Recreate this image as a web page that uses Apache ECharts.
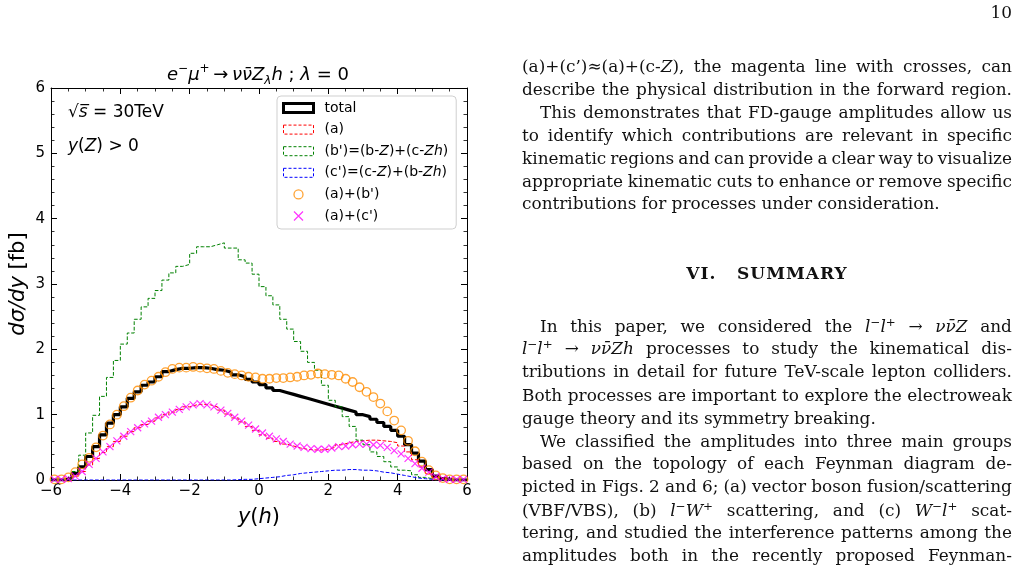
<!DOCTYPE html>
<html>
<head>
<meta charset="utf-8">
<script src="https://cdn.jsdelivr.net/npm/echarts@6/dist/echarts.min.js"></script>
<style>
  html, body { margin: 0; padding: 0; background: #fff; }
  #page { position: relative; width: 1017px; height: 570px; overflow: hidden; }
  #chart { position: absolute; left: 0; top: 0; width: 1017px; height: 570px; }
  .ln { position: absolute; left: 522px; width: 490px; height: 23px; line-height: 23px;
        font-family: 'DejaVu Serif', serif; font-size: 16.9px; color: #111; white-space: nowrap; }
  .ln.j { display: flex; justify-content: space-between; }
  .ln.ind { left: 540px; width: 472px; }
  .ln i { font-style: italic; }
  .ln sup { font-size: 70%; line-height: 0; vertical-align: 0.5em; }
  .hd { position: absolute; left: 522px; width: 490px; text-align: center; font-family: 'DejaVu Serif', serif;
        font-weight: bold; font-size: 17px; letter-spacing: 1px; line-height: 23px; color: #111; white-space: pre; }
  .pg { position: absolute; right: 5px; top: 2px; font-family: 'DejaVu Serif', serif; font-size: 16.9px; color: #111; }
</style>
</head>
<body>
<div id="page">
  <div id="chart"></div>
  <div class="pg">10</div>
  <div id="text"></div>
</div>
<script>
// bins of width 0.2 from -6 to 6
const binWidth = 0.2
const binLeft = Array.from({ length: 60 }, (_, i) => -6 + i * binWidth)

// total
const total = [
  0, 0, 0.03, 0.1, 0.2, 0.36, 0.51, 0.69, 0.87, 1.0,
  1.12, 1.25, 1.35, 1.45, 1.5, 1.58, 1.66, 1.69, 1.71, 1.71,
  1.72, 1.72, 1.71, 1.69, 1.68, 1.65, 1.61, 1.58, 1.54, 1.5,
  1.46, 1.41, 1.37, 1.34, 1.31, 1.28, 1.25, 1.22, 1.19, 1.16,
  1.13, 1.1, 1.07, 1.04, 1.0, 0.97, 0.93, 0.88, 0.82, 0.76,
  0.67, 0.54, 0.41, 0.29, 0.16, 0.06, 0.02, 0, 0, 0,
]
// (a)
const partA = [
  0, 0, 0.02, 0.06, 0.13, 0.23, 0.33, 0.42, 0.51, 0.59,
  0.67, 0.74, 0.8, 0.85, 0.9, 0.95, 1.0, 1.04, 1.08, 1.12,
  1.15, 1.16, 1.15, 1.12, 1.07, 1.01, 0.95, 0.89, 0.82, 0.76,
  0.69, 0.64, 0.59, 0.55, 0.52, 0.49, 0.47, 0.46, 0.46, 0.47,
  0.5, 0.54, 0.57, 0.59, 0.6, 0.61, 0.61, 0.6, 0.59, 0.57,
  0.52, 0.43, 0.31, 0.2, 0.1, 0.04, 0.01, 0, 0, 0,
]
// (b')=(b-Z)+(c-Zh)
const partB = [
  0, 0, 0.03, 0.13, 0.38, 0.72, 0.99, 1.28, 1.57, 1.83,
  2.08, 2.25, 2.46, 2.65, 2.78, 2.9, 3.06, 3.17, 3.27, 3.3,
  3.47, 3.57, 3.57, 3.6, 3.63, 3.55, 3.55, 3.37, 3.32, 3.15,
  2.96, 2.82, 2.68, 2.46, 2.31, 2.12, 1.97, 1.8, 1.68, 1.45,
  1.22, 1.12, 0.97, 0.82, 0.61, 0.54, 0.43, 0.36, 0.28, 0.2,
  0.15, 0.14, 0.08, 0.04, 0.02, 0, 0, 0, 0, 0,
]
// (c')=(c-Z)+(b-Zh)
const partC = [
  0, 0, 0, 0, 0, 0, 0, 0, 0, 0,
  0, 0, 0, 0, 0, 0, 0, 0, 0, 0,
  0, 0, 0, 0, 0, 0, 0.005, 0.01, 0.01, 0.02,
  0.03, 0.04, 0.05, 0.07, 0.08, 0.1, 0.11, 0.12, 0.13, 0.14,
  0.15, 0.15, 0.16, 0.16, 0.15, 0.15, 0.14, 0.12, 0.11, 0.09,
  0.07, 0.05, 0.03, 0.02, 0.01, 0, 0, 0, 0, 0,
]
// (a)+(b')
const sumAB = [
  0.01, 0.01, 0.04, 0.12, 0.24, 0.34, 0.5, 0.68, 0.85, 1.0,
  1.13, 1.26, 1.37, 1.46, 1.52, 1.58, 1.65, 1.7, 1.72, 1.72,
  1.73, 1.72, 1.71, 1.7, 1.67, 1.64, 1.62, 1.6, 1.58, 1.57,
  1.55, 1.55, 1.56, 1.56, 1.57, 1.58, 1.6, 1.61, 1.63, 1.62,
  1.61, 1.6, 1.55, 1.5, 1.42, 1.35, 1.27, 1.17, 1.05, 0.91,
  0.76, 0.6, 0.44, 0.28, 0.15, 0.07, 0.03, 0.01, 0.01, 0.01,
]
// (a)+(c')
const sumAC = [
  0.01, 0.01, 0.02, 0.06, 0.13, 0.24, 0.33, 0.43, 0.51, 0.6,
  0.67, 0.74, 0.8, 0.86, 0.9, 0.96, 1.0, 1.04, 1.08, 1.12,
  1.15, 1.17, 1.15, 1.12, 1.07, 1.02, 0.96, 0.9, 0.84, 0.78,
  0.72, 0.67, 0.63, 0.59, 0.55, 0.52, 0.5, 0.48, 0.47, 0.47,
  0.49, 0.51, 0.52, 0.54, 0.55, 0.55, 0.54, 0.53, 0.5, 0.45,
  0.4, 0.33, 0.25, 0.18, 0.12, 0.05, 0.02, 0.01, 0.01, 0.01,
]

const legendLabels = {
  'total': 'total',
  '(a)': '(a)',
  "(b')": "(b')=(b-{i|Z})+(c-{i|Zh})",
  "(c')": "(c')=(c-{i|Z})+(b-{i|Zh})",
  "(a)+(b')": "(a)+(b')",
  "(a)+(c')": "(a)+(c')",
}

const xPath = 'path://M0,0L10,10M10,0L0,10'
const minus = v => (v < 0 ? '\u2212' + Math.abs(v) : String(v))

// histogram outline from left edges, closed at x = 6
const stepData = vals => vals.map((v, i) => [binLeft[i], v]).concat([[6, vals[vals.length - 1]]])
// markers at bin centres
const markerData = vals => vals.map((v, i) => [binLeft[i] + binWidth / 2, v])

const chart = echarts.init(document.getElementById('chart'), null, { renderer: 'canvas' })

const tickBase = {
  axisLine: { show: true, onZero: false, lineStyle: { color: '#000', width: 1 } },
  axisTick: { show: true, inside: true, length: 6, lineStyle: { color: '#000', width: 1 } },
  minorTick: { show: true, length: 3.5, lineStyle: { color: '#000', width: 0.8 } },
  splitLine: { show: false },
  minorSplitLine: { show: false },
}
const labelStyle = { color: '#000', fontSize: 15, fontFamily: 'DejaVu Sans', formatter: minus }

const dashed = (name, vals, color) => ({
  name,
  type: 'line',
  step: 'end',
  data: stepData(vals),
  symbol: 'none',
  lineStyle: { color, width: 1, type: [3.7, 1.8] },
  itemStyle: { color },
  z: 3,
})

chart.setOption({
  animation: false,
  backgroundColor: 'rgba(0,0,0,0)',
  grid: { left: 51, right: 550, top: 88, bottom: 90, outerBoundsMode: 'none' },
  xAxis: [
    {
      type: 'value', min: -6, max: 6, interval: 2, position: 'bottom',
      ...tickBase,
      minorTick: { ...tickBase.minorTick, splitNumber: 4 },
      axisLabel: { ...labelStyle, margin: 4 },
      name: '{i|y}{n|(}{i|h}{n|)}',
      nameLocation: 'middle',
      nameGap: 27,
      nameTextStyle: {
        rich: {
          i: { fontStyle: 'italic', fontFamily: 'DejaVu Sans', fontSize: 21, color: '#000' },
          n: { fontFamily: 'DejaVu Sans', fontSize: 21, color: '#000' },
        },
      },
    },
    {
      type: 'value', min: -6, max: 6, interval: 2, position: 'top',
      ...tickBase,
      minorTick: { ...tickBase.minorTick, splitNumber: 4 },
      axisLabel: { show: false },
    },
  ],
  yAxis: [
    {
      type: 'value', min: 0, max: 6, interval: 1, position: 'left',
      ...tickBase,
      minorTick: { ...tickBase.minorTick, splitNumber: 5 },
      axisLabel: { ...labelStyle, margin: 6 },
      name: '{i|d\u03c3/dy}{n| [fb]}',
      nameLocation: 'middle',
      nameRotate: 90,
      nameGap: 22,
      nameTextStyle: {
        rich: {
          i: { fontStyle: 'italic', fontFamily: 'DejaVu Sans', fontSize: 21, color: '#000' },
          n: { fontFamily: 'DejaVu Sans', fontSize: 21, color: '#000' },
        },
      },
    },
    {
      type: 'value', min: 0, max: 6, interval: 1, position: 'right',
      ...tickBase,
      minorTick: { ...tickBase.minorTick, splitNumber: 5 },
      axisLabel: { show: false },
    },
  ],
  legend: {
    orient: 'vertical',
    left: 277,
    top: 96,
    align: 'left',
    selectedMode: false,
    padding: [5, 8, 6, 5],
    itemGap: 7.6,
    itemWidth: 30,
    itemHeight: 9,
    backgroundColor: '#fff',
    borderColor: '#cfcfcf',
    borderWidth: 1,
    borderRadius: 4,
    formatter: n => legendLabels[n],
    textStyle: {
      color: '#000', fontFamily: 'DejaVu Sans', fontSize: 14, lineHeight: 14, padding: [0, 0, 0, 6],
      rich: { i: { fontStyle: 'italic', fontFamily: 'DejaVu Sans', fontSize: 14, lineHeight: 14, color: '#000' } },
    },
    data: [
      { name: 'total', icon: 'rect', itemStyle: { color: 'rgba(0,0,0,0)', borderColor: '#000', borderWidth: 3 } },
      { name: '(a)', icon: 'rect', itemStyle: { color: 'rgba(0,0,0,0)', borderColor: '#ff0000', borderWidth: 1, borderType: [3, 2] } },
      { name: "(b')", icon: 'rect', itemStyle: { color: 'rgba(0,0,0,0)', borderColor: '#008000', borderWidth: 1, borderType: [3, 2] } },
      { name: "(c')", icon: 'rect', itemStyle: { color: 'rgba(0,0,0,0)', borderColor: '#0000ff', borderWidth: 1, borderType: [3, 2] } },
      { name: "(a)+(b')", icon: 'circle', itemStyle: { color: 'rgba(0,0,0,0)', borderColor: '#ff8c00', borderWidth: 1.3 } },
      { name: "(a)+(c')", icon: xPath, itemStyle: { color: 'rgba(0,0,0,0)', borderColor: '#ff00ff', borderWidth: 1.2 } },
    ],
  },
  graphic: [
    {
      type: 'text', x: 258, y: 75,
      style: {
        text: '{i|e}{sp|\u2212}{i|\u03bc}{sp|+}{n|\u2009\u2192\u2009}{i|\u03bd\u03bd\u0304Z}{sb|\u03bb}{i|h}{n| ; }{i|\u03bb}{n| = 0}',
        align: 'center', verticalAlign: 'middle',
        rich: {
          i: { fontStyle: 'italic', fontFamily: 'DejaVu Sans', fontSize: 18, lineHeight: 24, fill: '#000' },
          n: { fontFamily: 'DejaVu Sans', fontSize: 18, lineHeight: 24, fill: '#000' },
          sp: { fontFamily: 'DejaVu Sans', fontSize: 12, lineHeight: 14, verticalAlign: 'top', fill: '#000' },
          sb: { fontStyle: 'italic', fontFamily: 'DejaVu Sans', fontSize: 12, lineHeight: 12, verticalAlign: 'bottom', fill: '#000' },
        },
      },
    },
    {
      type: 'text', x: 68, y: 113,
      style: {
        text: '{n|\u221a}{i|s\u0305}{n| = 30TeV}',
        verticalAlign: 'middle',
        rich: {
          i: { fontStyle: 'italic', fontFamily: 'DejaVu Sans', fontSize: 17, fill: '#000' },
          n: { fontFamily: 'DejaVu Sans', fontSize: 17, fill: '#000' },
        },
      },
    },
    {
      type: 'text', x: 68, y: 147,
      style: {
        text: '{i|y}{n|(}{i|Z}{n|) > 0}',
        verticalAlign: 'middle',
        rich: {
          i: { fontStyle: 'italic', fontFamily: 'DejaVu Sans', fontSize: 17, fill: '#000' },
          n: { fontFamily: 'DejaVu Sans', fontSize: 17, fill: '#000' },
        },
      },
    },
  ],
  series: [
    {
      name: 'total',
      type: 'line',
      step: 'end',
      data: stepData(total),
      symbol: 'none',
      lineStyle: { color: '#000', width: 3.2 },
      itemStyle: { color: '#000' },
      z: 2,
    },
    dashed('(a)', partA, '#ff0000'),
    dashed("(b')", partB, '#008000'),
    dashed("(c')", partC, '#0000ff'),
    {
      name: "(a)+(b')",
      type: 'scatter',
      data: markerData(sumAB),
      symbol: 'circle',
      symbolSize: 8.5,
      itemStyle: { color: 'rgba(0,0,0,0)', borderColor: '#ff8c00', borderWidth: 1.3 },
      z: 4,
    },
    {
      name: "(a)+(c')",
      type: 'scatter',
      data: markerData(sumAC),
      symbol: xPath,
      symbolSize: 7,
      itemStyle: { color: 'rgba(0,0,0,0)', borderColor: '#ff00ff', borderWidth: 1.2 },
      z: 5,
    },
  ],
})

// page text, one entry per printed line: [centre y, html, kind]
const lines = [
  [68, '(a)+(c\u2019)\u2248(a)+(c-<i>Z</i>), the magenta line with crosses, can', 'j'],
  [91, 'describe the physical distribution in the forward region.', 'j'],
  [113.5, 'This demonstrates that FD-gauge amplitudes allow us', 'j ind'],
  [136.5, 'to identify which contributions are relevant in specific', 'j'],
  [159.5, 'kinematic regions and can provide a clear way to visualize', 'j'],
  [182.5, 'appropriate kinematic cuts to enhance or remove specific', 'j'],
  [205, 'contributions for processes under consideration.', ''],
  [327.5, 'In this paper, we considered the <i>l</i><sup>\u2212</sup><i>l</i><sup>+</sup> \u2192 <i>\u03bd\u03bd\u0304Z</i> and', 'j ind'],
  [350, '<i>l</i><sup>\u2212</sup><i>l</i><sup>+</sup> \u2192 <i>\u03bd\u03bd\u0304Zh</i> processes to study the kinematical dis-', 'j'],
  [373, 'tributions in detail for future TeV-scale lepton colliders.', 'j'],
  [396.5, 'Both processes are important to explore the electroweak', 'j'],
  [419.5, 'gauge theory and its symmetry breaking.', ''],
  [442.5, 'We classified the amplitudes into three main groups', 'j ind'],
  [465, 'based on the topology of each Feynman diagram de-', 'j'],
  [488, 'picted in Figs. 2 and 6; (a) vector boson fusion/scattering', 'j'],
  [511.5, '(VBF/VBS), (b) <i>l</i><sup>\u2212</sup><i>W</i><sup>+</sup> scattering, and (c) <i>W</i><sup>\u2212</sup><i>l</i><sup>+</sup> scat-', 'j'],
  [534, 'tering, and studied the interference patterns among the', 'j'],
  [556.5, 'amplitudes both in the recently proposed Feynman-', 'j'],
]
const textBox = document.getElementById('text')
lines.forEach(([cy, html, kind]) => {
  const d = document.createElement('div')
  d.className = 'ln ' + kind
  d.style.top = (cy - 13) + 'px'
  if (kind.indexOf('j') >= 0) {
    d.innerHTML = html.split(' ').map(w => '<span>' + w + '</span>').join('')
  } else {
    d.innerHTML = html
  }
  textBox.appendChild(d)
})
const hd = document.createElement('div')
hd.className = 'hd'
hd.style.top = (275 - 13) + 'px'
hd.textContent = 'VI.   SUMMARY'
textBox.appendChild(hd)
</script>
</body>
</html>
